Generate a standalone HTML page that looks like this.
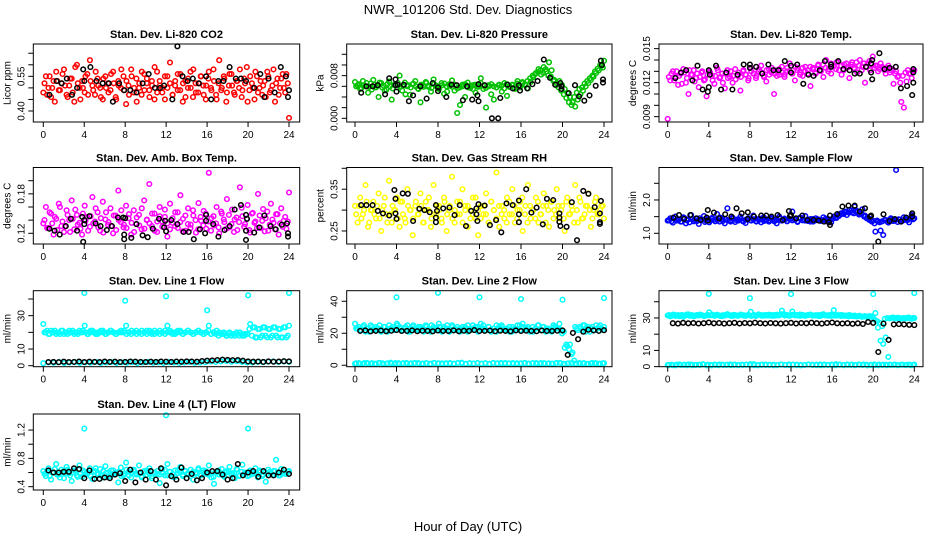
<!DOCTYPE html>
<html><head><meta charset="utf-8"><style>
html,body{margin:0;padding:0;background:#fff;}
svg text{font-family:"Liberation Sans",sans-serif;}
</style></head><body>
<svg id="chart" width="936" height="540" viewBox="0 0 936 540" xmlns="http://www.w3.org/2000/svg">
<rect x="0" y="0" width="936" height="540" fill="#fff"/>
<text x="468" y="14" font-size="13" text-anchor="middle">NWR_101206 Std. Dev. Diagnostics</text>
<text x="468" y="531" font-size="13" text-anchor="middle">Hour of Day (UTC)</text>
</svg>
<script>
const xTicks = [0,4,8,12,16,20,24];

const co2Color = [0.48,0.55,0.50,0.46,0.53,0.57,0.49,0.52,0.58,0.47,0.51,0.54,0.44,0.60,0.50,0.53,0.48,0.56,0.62,0.51,0.47,0.54,0.50,0.45,0.55,0.52,0.49,0.57,0.46,0.53,0.50,0.55,0.43,0.51,0.58,0.48,0.54,0.50,0.47,0.56,0.52,0.49,0.53,0.45,0.57,0.51,0.48,0.55,0.50,0.61,0.47,0.53,0.49,0.56,0.52,0.46,0.54,0.50,0.58,0.48,0.52,0.55,0.47,0.51,0.57,0.49,0.53,0.45,0.62,0.50,0.54,0.48,0.56,0.51,0.47,0.53,0.58,0.49,0.52,0.44,0.55,0.50,0.57,0.48,0.53,0.51,0.46,0.55,0.49,0.58,0.52,0.47,0.54,0.50,0.56,0.37];
const co2ColorB = [0.52,0.47,0.55,0.50,0.44,0.53,0.49,0.56,0.51,0.46,0.54,0.48,0.59,0.52,0.45,0.50,0.55,0.47,0.53,0.49,0.57,0.51,0.46,0.54,0.50,0.48,0.56,0.52,0.45,0.51,0.58,0.49,0.53,0.47,0.55,0.50,0.44,0.52,0.57,0.49,0.54,0.46,0.51,0.59,0.48,0.53,0.50,0.45,0.55,0.52,0.47,0.51,0.56,0.49,0.44,0.53,0.50,0.57,0.46,0.52,0.48,0.55,0.51,0.45,0.54,0.50,0.58,0.47,0.52,0.49,0.55,0.44,0.51,0.56,0.48,0.53,0.50,0.46,0.54,0.59,0.49,0.52,0.45,0.55,0.50,0.47,0.53,0.57,0.48,0.51,0.44,0.54,0.50,0.56,0.48,0.52];
const co2BlackX = [0.6,1.3,1.8,2.3,2.8,3.3,3.9,4.0,4.6,5.2,5.8,6.4,6.8,7.4,7.9,8.5,9.1,9.7,10.3,10.9,11.4,11.8,12.6,13.1,13.6,14.1,14.6,15.2,15.9,16.4,17.1,17.6,18.2,18.8,19.3,19.8,20.6,21.2,21.6,22.0,22.6,23.2,23.7,23.9,24.0];
const co2BlackY = [0.47,0.53,0.52,0.54,0.47,0.50,0.58,0.53,0.59,0.53,0.52,0.52,0.44,0.52,0.49,0.49,0.48,0.52,0.56,0.50,0.50,0.51,0.45,0.68,0.55,0.53,0.54,0.52,0.55,0.45,0.53,0.53,0.59,0.54,0.54,0.53,0.50,0.56,0.46,0.54,0.48,0.59,0.55,0.46,0.49];

const presColor = [0.0068,0.0062,0.0055,0.0070,0.0060,0.0048,0.0065,0.0072,0.0058,0.0040,0.0066,0.0061,0.0054,0.0069,0.0035,0.0063,0.0058,0.0080,0.0052,0.0067,0.0060,0.0044,0.0064,0.0070,0.0056,0.0030,0.0062,0.0068,0.0059,0.0050,0.0073,0.0061,0.0055,0.0066,0.0046,0.0060,0.0064,0.0071,0.0052,0.0010,0.0058,0.0063,0.0040,0.0067,0.0057,0.0062,0.0048,0.0061,0.0075,0.0055,0.0020,0.0060,0.0064,0.0035,0.0058,0.0062,0.0050,0.0066,0.0042,0.0060,0.0063,0.0055,0.0070,0.0058,0.0066,0.0062,0.0056,0.0068,0.0077,0.0085,0.0092,0.0082,0.0096,0.0088,0.0105,0.0090,0.0072,0.0066,0.0070,0.0062,0.0055,0.0048,0.0040,0.0030,0.0022,0.0035,0.0045,0.0052,0.0060,0.0066,0.0072,0.0078,0.0085,0.0090,0.0098,0.0108];
const presColorB = [0.0060,0.0064,0.0057,0.0062,0.0066,0.0059,0.0054,0.0063,0.0061,0.0067,0.0058,0.0052,0.0064,0.0060,0.0056,0.0063,0.0066,0.0059,0.0061,0.0045,0.0062,0.0058,0.0065,0.0060,0.0055,0.0063,0.0059,0.0066,0.0061,0.0057,0.0064,0.0060,0.0058,0.0062,0.0065,0.0050,0.0061,0.0059,0.0063,0.0056,0.0025,0.0060,0.0064,0.0058,0.0061,0.0055,0.0063,0.0059,0.0066,0.0061,0.0057,0.0062,0.0045,0.0060,0.0058,0.0063,0.0061,0.0056,0.0064,0.0059,0.0062,0.0057,0.0065,0.0061,0.0068,0.0064,0.0070,0.0075,0.0080,0.0083,0.0087,0.0090,0.0085,0.0092,0.0080,0.0078,0.0070,0.0062,0.0058,0.0052,0.0045,0.0038,0.0030,0.0025,0.0040,0.0048,0.0055,0.0058,0.0065,0.0070,0.0075,0.0080,0.0088,0.0093,0.0100,0.0095];
const presBlackX = [0.6,1.1,1.7,2.2,2.9,3.3,3.9,3.9,4.0,4.1,4.7,5.2,5.6,6.3,6.9,7.5,8.0,8.0,8.8,9.3,9.8,10.4,10.8,11.3,11.8,11.9,11.9,12.5,13.2,13.8,14.0,14.7,15.2,15.8,15.9,16.6,17.1,17.6,18.2,18.8,19.3,19.8,19.9,19.9,20.6,21.2,21.6,22.1,22.6,23.2,23.7,23.8,23.9,23.9];
const presBlackY = [0.0048,0.0060,0.0060,0.0062,0.0045,0.0075,0.0073,0.0062,0.0050,0.0063,0.0063,0.0032,0.0043,0.0060,0.0037,0.0066,0.0058,0.0051,0.0040,0.0063,0.0062,0.0034,0.0060,0.0035,0.0043,0.0032,0.0064,0.0062,0.0000,0.0000,0.0038,0.0063,0.0056,0.0062,0.0052,0.0056,0.0064,0.0070,0.0110,0.0076,0.0063,0.0066,0.0060,0.0055,0.0047,0.0062,0.0041,0.0033,0.0043,0.0061,0.0108,0.0100,0.0073,0.0067];

const tempColor = [0.0088,0.0122,0.0130,0.0125,0.0118,0.0128,0.0132,0.0120,0.0110,0.0127,0.0131,0.0124,0.0116,0.0129,0.0122,0.0108,0.0130,0.0126,0.0119,0.0133,0.0124,0.0128,0.0115,0.0131,0.0125,0.0120,0.0132,0.0126,0.0113,0.0130,0.0127,0.0122,0.0133,0.0128,0.0124,0.0130,0.0135,0.0126,0.0121,0.0132,0.0129,0.0110,0.0131,0.0127,0.0134,0.0125,0.0130,0.0137,0.0128,0.0122,0.0133,0.0129,0.0126,0.0134,0.0131,0.0117,0.0133,0.0128,0.0136,0.0130,0.0125,0.0140,0.0132,0.0128,0.0135,0.0138,0.0131,0.0127,0.0136,0.0133,0.0124,0.0138,0.0132,0.0129,0.0140,0.0134,0.0120,0.0137,0.0131,0.0143,0.0135,0.0130,0.0137,0.0133,0.0128,0.0135,0.0131,0.0119,0.0130,0.0126,0.0103,0.0098,0.0121,0.0128,0.0124,0.0131];
const tempColorB = [0.0125,0.0128,0.0122,0.0130,0.0126,0.0119,0.0129,0.0124,0.0131,0.0127,0.0121,0.0128,0.0125,0.0130,0.0123,0.0127,0.0129,0.0122,0.0126,0.0131,0.0125,0.0120,0.0128,0.0124,0.0130,0.0126,0.0123,0.0129,0.0125,0.0131,0.0127,0.0124,0.0130,0.0128,0.0126,0.0132,0.0129,0.0125,0.0131,0.0127,0.0133,0.0128,0.0126,0.0132,0.0129,0.0127,0.0133,0.0130,0.0128,0.0134,0.0131,0.0127,0.0133,0.0130,0.0128,0.0134,0.0132,0.0129,0.0135,0.0131,0.0136,0.0133,0.0130,0.0137,0.0134,0.0132,0.0138,0.0135,0.0131,0.0137,0.0134,0.0136,0.0133,0.0138,0.0135,0.0131,0.0137,0.0134,0.0139,0.0136,0.0133,0.0135,0.0132,0.0134,0.0131,0.0133,0.0129,0.0132,0.0128,0.0125,0.0120,0.0126,0.0129,0.0131,0.0128,0.0130];
const tempBlackX = [0.74,1.3,1.8,2.4,2.9,3.4,3.9,4.0,4.1,4.0,4.7,5.2,5.7,6.3,6.8,7.4,8.0,8.0,8.6,9.2,9.8,10.3,10.8,11.4,12.0,12.0,12.6,13.2,13.7,14.2,14.8,15.3,15.9,15.9,16.6,17.1,17.7,18.2,18.7,19.3,19.8,19.9,19.8,19.9,20.6,21.1,21.6,22.2,22.7,23.3,23.9,23.9,23.9,23.8];
const tempBlackY = [0.0124,0.0129,0.0131,0.0122,0.0135,0.0114,0.0112,0.0116,0.0127,0.0131,0.0135,0.0114,0.0129,0.0114,0.0127,0.0136,0.0136,0.0133,0.0134,0.0128,0.0136,0.0131,0.0131,0.0139,0.0135,0.0129,0.0136,0.0119,0.0127,0.0126,0.0131,0.0139,0.0136,0.0134,0.0139,0.0132,0.0131,0.0128,0.0128,0.0134,0.0137,0.0140,0.0129,0.0123,0.0146,0.0132,0.0133,0.0134,0.0115,0.0117,0.0120,0.0129,0.0132,0.0109];

const ambColor = [0.135,0.160,0.128,0.150,0.118,0.142,0.165,0.131,0.122,0.155,0.140,0.170,0.126,0.148,0.136,0.118,0.162,0.145,0.130,0.175,0.138,0.152,0.124,0.168,0.141,0.133,0.158,0.120,0.147,0.185,0.137,0.129,0.162,0.143,0.118,0.155,0.134,0.148,0.126,0.170,0.140,0.195,0.131,0.150,0.122,0.160,0.138,0.145,0.115,0.165,0.136,0.152,0.128,0.178,0.142,0.124,0.158,0.133,0.147,0.121,0.166,0.139,0.154,0.127,0.212,0.143,0.132,0.160,0.120,0.150,0.137,0.172,0.129,0.156,0.141,0.125,0.190,0.146,0.134,0.163,0.121,0.151,0.138,0.180,0.128,0.157,0.143,0.124,0.165,0.136,0.149,0.118,0.158,0.139,0.127,0.182];
const ambColorB = [0.140,0.128,0.152,0.135,0.145,0.125,0.160,0.138,0.130,0.148,0.122,0.142,0.156,0.133,0.127,0.150,0.139,0.124,0.146,0.135,0.158,0.129,0.143,0.121,0.152,0.137,0.131,0.147,0.125,0.140,0.155,0.133,0.128,0.149,0.136,0.122,0.144,0.132,0.158,0.127,0.141,0.135,0.150,0.124,0.138,0.146,0.130,0.156,0.135,0.126,0.143,0.131,0.152,0.137,0.123,0.147,0.134,0.128,0.155,0.140,0.126,0.145,0.132,0.150,0.138,0.124,0.146,0.135,0.129,0.153,0.141,0.127,0.148,0.134,0.122,0.144,0.137,0.159,0.130,0.142,0.125,0.150,0.136,0.128,0.147,0.139,0.123,0.153,0.133,0.141,0.126,0.149,0.135,0.130,0.145,0.138];
const ambBlackX = [0.6,1.1,1.6,2.2,2.7,3.3,3.8,3.9,4.0,4.0,4.5,5.1,5.6,6.2,6.7,7.3,7.8,7.9,7.9,8.0,8.6,9.1,9.7,10.2,10.7,11.3,11.8,11.9,12.0,12.5,13.1,13.7,14.2,14.7,15.3,15.8,15.9,15.9,16.6,17.1,17.7,18.2,18.7,19.3,19.8,19.9,19.8,19.8,20.6,21.1,21.6,22.2,22.7,23.3,23.8,23.9,23.9];
const ambBlackY = [0.127,0.124,0.118,0.131,0.142,0.124,0.145,0.107,0.134,0.140,0.146,0.135,0.131,0.125,0.131,0.144,0.144,0.118,0.111,0.143,0.113,0.134,0.117,0.114,0.127,0.142,0.129,0.139,0.123,0.140,0.134,0.122,0.122,0.111,0.126,0.120,0.148,0.139,0.134,0.115,0.125,0.131,0.156,0.163,0.148,0.142,0.124,0.110,0.121,0.129,0.147,0.131,0.126,0.133,0.135,0.115,0.120];

const rhColor = [0.31,0.27,0.33,0.29,0.36,0.26,0.30,0.32,0.28,0.34,0.25,0.31,0.29,0.37,0.27,0.30,0.33,0.26,0.32,0.28,0.35,0.30,0.24,0.31,0.29,0.34,0.27,0.32,0.30,0.26,0.36,0.29,0.31,0.28,0.33,0.25,0.30,0.38,0.27,0.32,0.29,0.35,0.31,0.26,0.30,0.33,0.28,0.24,0.31,0.29,0.34,0.27,0.32,0.30,0.39,0.26,0.31,0.28,0.33,0.29,0.35,0.27,0.30,0.32,0.25,0.31,0.36,0.28,0.30,0.33,0.27,0.29,0.34,0.31,0.26,0.32,0.30,0.35,0.28,0.31,0.25,0.33,0.29,0.30,0.36,0.27,0.32,0.28,0.31,0.34,0.26,0.30,0.33,0.29,0.31,0.28];
const rhColorB = [0.29,0.31,0.28,0.30,0.32,0.27,0.30,0.29,0.31,0.28,0.30,0.33,0.27,0.29,0.31,0.30,0.28,0.32,0.29,0.27,0.31,0.30,0.28,0.32,0.29,0.31,0.27,0.30,0.33,0.28,0.29,0.31,0.30,0.27,0.32,0.29,0.31,0.28,0.30,0.29,0.32,0.27,0.30,0.31,0.28,0.29,0.33,0.30,0.28,0.31,0.29,0.27,0.32,0.30,0.28,0.31,0.29,0.30,0.27,0.32,0.29,0.31,0.28,0.30,0.33,0.29,0.27,0.31,0.30,0.28,0.32,0.29,0.31,0.27,0.30,0.32,0.28,0.29,0.31,0.30,0.28,0.32,0.29,0.31,0.27,0.30,0.33,0.28,0.29,0.31,0.30,0.28,0.32,0.29,0.30,0.31];
const rhBlackX = [0.6,1.1,1.7,2.2,2.7,3.3,3.8,3.9,3.9,4.0,4.6,5.1,5.6,6.2,6.7,7.2,7.8,7.9,7.8,7.8,8.5,9.1,9.6,10.1,10.7,11.2,11.7,11.7,11.8,11.9,12.5,13.0,13.6,14.1,14.6,15.2,15.8,15.8,15.8,16.5,17.0,17.5,18.1,18.5,19.1,19.7,19.7,19.7,19.8,20.4,20.9,21.4,22.0,22.5,23.1,23.6,23.6,23.6,23.7];
const rhBlackY = [0.312,0.312,0.312,0.298,0.292,0.287,0.348,0.327,0.292,0.279,0.340,0.339,0.274,0.303,0.300,0.295,0.312,0.298,0.282,0.271,0.304,0.306,0.288,0.312,0.262,0.298,0.304,0.290,0.274,0.314,0.311,0.264,0.276,0.247,0.316,0.312,0.323,0.290,0.271,0.350,0.294,0.306,0.266,0.327,0.324,0.292,0.282,0.272,0.262,0.260,0.319,0.228,0.346,0.339,0.307,0.292,0.271,0.267,0.322];

const flowColor = [1.38,1.45,1.32,1.50,1.40,1.35,1.48,1.30,1.42,1.55,1.36,1.44,1.28,1.40,1.52,1.37,1.33,1.46,1.41,1.58,1.35,1.43,1.30,1.75,1.38,1.47,1.34,1.42,1.50,1.36,1.31,1.45,1.40,1.53,1.37,1.43,1.33,1.48,1.39,1.35,1.46,1.41,1.30,1.50,1.38,1.44,1.36,1.42,1.65,1.40,1.34,1.47,1.39,1.52,1.37,1.43,1.35,1.45,1.41,1.38,1.48,1.36,1.42,1.33,1.50,1.46,1.52,1.58,1.64,1.55,1.70,1.62,1.80,1.67,1.59,1.72,1.53,1.48,1.43,1.38,1.05,1.35,1.08,0.95,1.40,1.32,1.45,1.37,2.90,1.42,1.35,1.48,1.40,1.33,1.55,1.45];
const flowColorB = [1.40,1.36,1.44,1.38,1.42,1.35,1.46,1.39,1.33,1.43,1.40,1.37,1.45,1.41,1.34,1.42,1.38,1.44,1.36,1.40,1.47,1.37,1.42,1.39,1.35,1.44,1.40,1.38,1.43,1.36,1.41,1.45,1.38,1.42,1.35,1.40,1.44,1.37,1.41,1.39,1.43,1.36,1.40,1.45,1.38,1.41,1.37,1.43,1.39,1.42,1.36,1.44,1.40,1.38,1.41,1.35,1.43,1.39,1.42,1.37,1.40,1.44,1.38,1.41,1.45,1.48,1.55,1.60,1.58,1.65,1.62,1.68,1.60,1.63,1.56,1.58,1.50,1.45,1.40,1.35,1.30,1.38,1.33,1.36,1.40,1.35,1.42,1.37,1.39,1.34,1.41,1.38,1.43,1.40,1.45,1.42];
const flowBlackX = [0.55,1.1,1.6,2.2,2.8,3.2,3.8,3.9,3.9,4.5,5.0,5.6,6.2,6.7,7.2,7.8,7.8,8.4,9.1,9.6,10.1,10.7,11.2,11.8,11.9,12.0,12.5,13.1,13.6,14.2,14.7,15.2,15.7,15.8,15.8,16.5,17.0,17.6,18.2,18.7,19.2,19.7,19.8,20.5,21.0,21.6,22.1,22.7,23.2,23.8,23.8];
const flowBlackY = [1.47,1.55,1.43,1.55,1.45,1.40,1.47,1.70,1.38,1.62,1.45,1.57,1.50,1.75,1.60,1.63,1.43,1.50,1.53,1.53,1.50,1.55,1.40,1.67,1.52,1.55,1.45,1.53,1.40,1.40,1.38,1.35,1.33,1.53,1.25,1.58,1.80,1.83,1.83,1.65,1.75,1.50,1.53,0.75,1.57,1.37,1.43,1.35,1.47,1.50,1.60];

const line1Upper = [25,20,19,21,20,19,20,21,19,20,21,20,19,20,21,20,24,19,20,21,20,19,20,21,19,20,21,20,19,20,21,20,24,20,19,20,21,20,19,20,21,20,19,21,20,19,20,21,24,20,19,20,21,20,19,20,21,20,19,20,21,20,19,20,24,19,20,21,20,19,19,18,20,19,18,19,20,18,19,19,25,23,17,22,17,23,18,22,17,23,18,22,17,23,17,24];
const line1UpperB = [20,21,19,20,21,20,19,21,20,19,20,21,20,19,20,21,20,19,21,20,19,20,21,20,19,20,21,20,19,20,20,21,19,20,21,20,19,20,21,20,19,21,20,19,20,21,20,19,20,21,20,19,20,21,19,20,21,20,19,20,21,20,19,20,21,19,20,19,18,19,20,18,19,18,19,20,18,19,18,19,22,18,23,17,22,18,23,17,22,18,23,17,22,17,23,18];
const line1Low = [1.5,2.0,1.8,2.2,1.6,1.9,2.1,1.7,2.0,1.8,2.3,1.6,1.9,2.2,1.7,2.0,1.8,2.1,1.6,1.9,2.2,1.8,2.0,1.7,2.1,1.9,1.6,2.0,2.2,1.8,1.9,2.1,2.5,2.3,2.6,2.8,2.4,2.7,2.2,2.0,1.9,2.3,2.1,2.4,2.6,2.2,2.5,2.3];
const line1OutX = [4,8,12,16,20,24];
const line1OutY = [43.6,39.0,41.6,33.2,42.2,43.6];
const line1Black = [2.2,2.3,2.1,2.4,2.2,2.3,2.5,2.2,2.4,2.3,2.2,2.5,2.3,2.4,2.2,2.3,2.5,2.4,2.3,2.2,2.4,2.3,2.5,2.4,2.3,2.5,2.4,2.6,2.5,2.4,2.8,3.0,3.2,3.4,3.6,3.5,3.3,3.4,3.0,2.6,2.4,2.5,2.3,2.6,2.4,2.5,2.7,2.6];

const line2Upper = [26,23,22,24,21,23,25,22,24,23,21,24,22,25,23,22,26,24,22,23,25,21,24,23,22,24,23,25,22,21,24,23,26,22,24,23,21,25,22,24,23,22,24,21,23,25,22,24,26,23,22,24,21,23,25,22,24,23,22,21,24,23,25,22,26,23,24,22,21,23,25,22,24,23,22,21,24,23,26,20,11,12,13,8,24,22,23,25,21,24,23,22,25,24,23,24];
const line2UpperB = [23,24,22,25,23,21,24,22,23,25,22,24,21,23,24,22,25,23,22,24,21,23,25,22,24,23,21,24,22,25,23,22,24,21,23,25,22,24,23,22,21,24,23,25,22,23,24,21,23,25,22,24,22,23,21,24,25,22,23,24,21,23,22,25,24,22,23,21,24,23,25,22,24,21,23,22,25,24,23,22,21,13,10,7,3,23,24,22,25,23,21,24,22,23,25,22];
const line2Low = [1.0,1.3,0.8,1.5,1.1,0.9,1.4,1.2,1.0,1.6,0.8,1.3,1.1,1.5,0.9,1.2,1.4,1.0,1.3,0.8,1.5,1.1,1.2,0.9,1.4,1.0,1.3,1.6,0.9,1.2,1.1,1.4,1.0,1.3,0.8,1.5,1.2,1.0,1.4,1.1,0.9,1.3,1.2,1.5,1.0,1.3,0.9,1.4,1.1,1.2,1.0,1.5,1.3,0.8,1.2,1.4,1.0,1.1,1.3,0.9,1.5,1.2,1.0,1.3];
const line2LowB = [1.2,0.9,1.4,1.1,1.3,1.0,1.5,0.8,1.2,1.1,1.4,0.9,1.3,1.0,1.2,1.5,0.9,1.1,1.3,1.0,1.4,1.2,0.8,1.3,1.1,1.0,1.5,1.2,0.9,1.3,1.1,1.4,1.0,1.2,0.9,1.3,1.1,1.5,1.0,1.2,1.4,0.8,1.1,1.3,1.0,1.2,1.4,0.9,1.3,1.1,1.0,1.2,1.5,0.9,1.1,1.3,1.0,1.4,1.2,0.8,1.1,1.3,1.0,1.2];
const line2OutX = [4,8,12,16,20,24];
const line2OutY = [42.5,45.2,42.5,41.4,41.0,42.0];
const line2Black = [21.5,21.8,21.2,21.5,21.7,21.3,21.6,22.0,21.4,21.5,21.8,21.3,21.6,21.5,21.2,21.7,21.5,21.4,21.8,21.3,21.6,21.5,22.0,21.4,21.5,21.7,21.3,21.6,21.5,21.2,21.8,21.4,21.6,21.5,21.3,21.7,21.5,21.4,21.6,21.8,6.5,20.2,16.3,21.0,22.2,21.8,21.5,21.9];

const line3Upper = [31.5,31.0,32.0,31.2,31.8,31.3,30.8,31.6,32.2,31.4,31.0,31.7,31.5,31.9,31.2,31.6,33.5,31.8,31.3,32.0,31.5,31.1,31.7,32.3,31.6,31.2,31.8,31.4,32.0,31.5,31.3,31.9,33.8,31.6,31.2,32.1,31.7,31.4,31.9,31.5,31.8,31.3,32.0,31.6,34.5,32.2,31.7,31.4,34.0,31.9,31.5,32.1,31.6,31.3,31.8,32.0,31.5,31.7,31.2,31.9,32.3,31.6,31.4,32.0,34.8,31.7,31.5,31.9,31.3,31.6,31.8,31.2,31.5,31.0,31.3,30.8,31.1,30.9,31.0,30.6,33.0,24.0,16.0,14.0,18.0,6.0,30.0,30.3,29.8,30.1,29.6,30.0,29.7,30.2,29.5,29.9];
const line3UpperB = [31.8,31.3,32.0,31.5,31.1,31.9,31.6,32.2,31.4,31.8,31.2,31.7,32.1,31.5,31.3,31.9,31.6,32.0,31.4,31.8,31.2,31.7,31.5,32.1,31.3,31.9,31.6,31.4,32.0,31.7,31.5,31.8,31.2,31.9,31.6,32.2,31.4,31.7,31.5,32.0,31.3,31.8,31.6,31.9,32.3,31.5,31.7,31.4,32.0,31.6,31.8,31.3,31.9,31.5,31.7,32.1,31.4,31.6,31.8,31.2,31.9,31.5,31.7,31.3,31.6,31.4,31.8,31.2,31.5,31.3,31.0,31.4,31.1,30.9,31.2,30.8,31.0,30.7,31.1,30.9,29.0,28.0,27.0,25.0,29.5,30.0,29.7,30.2,29.8,30.1,29.6,30.0,29.8,30.3,29.7,30.0];
const line3Low = [1.0,1.2,0.8,1.4,1.1,0.9,1.3,1.0,1.2,1.5,0.8,1.1,1.3,0.9,1.2,1.0,1.4,1.1,0.9,1.3,1.2,1.0,1.5,0.8,1.1,1.3,1.0,1.2,0.9,1.4,1.1,1.0,1.3,1.2,0.8,1.1,1.4,1.0,1.2,0.9,1.3,1.1,1.0,1.5,1.2,0.9,1.1,1.3,1.0,1.2,1.4,0.8,1.1,1.0,1.3,1.2,0.9,1.1,1.4,1.0,1.2,1.1,0.9,1.3];
const line3LowB = [1.1,0.9,1.3,1.0,1.2,1.4,0.9,1.1,1.0,1.3,1.2,0.8,1.1,1.4,1.0,1.2,0.9,1.3,1.1,1.0,1.2,1.5,0.9,1.1,1.3,1.0,1.2,0.8,1.1,1.3,1.0,1.4,1.2,0.9,1.1,1.0,1.3,1.2,0.9,1.4,1.0,1.1,1.3,0.9,1.2,1.0,1.4,1.1,0.9,1.3,1.0,1.2,1.1,1.4,0.9,1.0,1.2,1.3,1.1,0.9,1.2,1.0,1.3,1.1];
const line3OutX = [4,8,12,20,24];
const line3OutY = [44.9,42.2,44.7,44.7,45.3];
const line3Black = [26.8,26.5,27.0,26.7,26.9,26.6,26.8,27.2,26.7,26.9,26.5,26.8,27.0,26.6,26.9,26.7,27.1,26.8,26.6,26.9,26.7,26.5,26.8,27.0,26.6,26.9,26.7,27.1,26.8,26.5,26.9,27.2,26.7,26.6,26.8,26.4,26.7,26.3,27.5,27.0,9.0,26.5,16.5,26.0,26.2,26.0,25.8,25.6];

const line4Color = [0.62,0.55,0.66,0.50,0.60,0.72,0.57,0.64,0.52,0.68,0.59,0.48,0.63,0.56,0.70,0.54,0.61,0.58,0.66,0.51,0.62,0.57,0.65,0.53,0.69,0.60,0.55,0.63,0.58,0.46,0.67,0.56,0.74,0.61,0.53,0.64,0.59,0.70,0.55,0.62,0.57,0.66,0.52,0.60,0.58,0.45,0.65,0.56,0.72,0.61,0.54,0.63,0.59,0.68,0.55,0.62,0.57,0.64,0.50,0.60,0.66,0.56,0.63,0.58,0.70,0.53,0.44,0.61,0.57,0.65,0.54,0.62,0.68,0.59,0.52,0.64,0.56,0.71,0.60,0.55,0.63,0.58,0.66,0.53,0.61,0.57,0.47,0.64,0.59,0.62,0.78,0.56,0.65,0.60,0.58,0.62];
const line4ColorB = [0.58,0.62,0.55,0.60,0.65,0.57,0.53,0.61,0.59,0.64,0.56,0.60,0.62,0.54,0.58,0.63,0.57,0.60,0.55,0.61,0.66,0.58,0.56,0.62,0.59,0.54,0.63,0.57,0.60,0.61,0.55,0.58,0.64,0.56,0.60,0.62,0.57,0.59,0.53,0.61,0.63,0.58,0.55,0.60,0.62,0.57,0.59,0.64,0.56,0.61,0.58,0.54,0.63,0.60,0.57,0.62,0.59,0.55,0.61,0.58,0.64,0.56,0.60,0.62,0.57,0.59,0.54,0.61,0.63,0.58,0.56,0.60,0.62,0.57,0.59,0.65,0.55,0.61,0.58,0.60,0.56,0.62,0.59,0.57,0.63,0.55,0.60,0.58,0.61,0.57,0.62,0.59,0.56,0.60,0.58,0.61];
const line4OutX = [4,12,20];
const line4OutY = [1.22,1.41,1.22];
const line4Black = [0.63,0.60,0.60,0.61,0.61,0.66,0.65,0.52,0.63,0.51,0.51,0.53,0.52,0.57,0.59,0.48,0.64,0.46,0.60,0.50,0.62,0.50,0.66,0.42,0.55,0.50,0.67,0.52,0.58,0.49,0.52,0.60,0.62,0.62,0.57,0.50,0.52,0.72,0.56,0.60,0.62,0.54,0.62,0.56,0.56,0.60,0.64,0.58];

const co2Ticks=[0.40,0.45,0.50,0.55,0.60,0.65], co2Labels=["0.40","","","0.55","",""];
const presTicks=[0,0.002,0.004,0.006,0.008,0.010,0.012], presLabels=["0.000","","","","0.008","",""];
const tempTicks=[0.009,0.010,0.011,0.012,0.013,0.014,0.015], tempLabels=["0.009","","","0.012","","","0.015"];
const ambTicks=[0.12,0.14,0.16,0.18,0.20], ambLabels=["0.12","","","0.18",""];
const rhTicks=[0.25,0.30,0.35,0.40], rhLabels=["0.25","","0.35",""];
const flowTicks=[1.0,1.5,2.0,2.5], flowLabels=["1.0","","2.0",""];
const lineTicks=[0,10,20,30,40], line1Labels=["0","10","","30",""], line2Labels=["0","","20","","40"];
const line4Ticks=[0.4,0.6,0.8,1.0,1.2], line4Labels=["0.4","","0.8","","1.2"];

const NS="http://www.w3.org/2000/svg";
const svg=document.getElementById('chart');
const cols=[{l:33.3,r:299.7,x0:43.3,x24:289},{l:346.7,r:612,x0:355,x24:604},{l:659,r:923,x0:667.7,x24:914.3}];
const rows=[{t:44,b:122},{t:167.5,b:244},{t:290.7,b:366.7},{t:414,b:490}];
function mk(tag,attrs,parent){const e=document.createElementNS(NS,tag);for(const k in attrs)e.setAttribute(k,attrs[k]);(parent||svg).appendChild(e);return e;}
function uni(n,a,b){const o=[];for(let i=0;i<n;i++)o.push(n===1?a:a+(b-a)*i/(n-1));return o;}

const panels=[
 {name:'co2',title:'Stan. Dev. Li-820 CO2',ylab:'Licor ppm',c:0,r:0,ymin:0.3523,ymax:0.690,ticks:co2Ticks,labels:co2Labels,series:[{y:co2Color,col:'#ff0000'},{y:co2ColorB,col:'#ff0000',off:true},{x:co2BlackX,y:co2BlackY,col:'#000'}]},
 {name:'pressure',title:'Stan. Dev. Li-820 Pressure',ylab:'kPa',c:1,r:0,ymin:-0.00069,ymax:0.01393,ticks:presTicks,labels:presLabels,series:[{y:presColor,col:'#00c000'},{y:presColorB,col:'#00c000',off:true},{x:presBlackX,y:presBlackY,col:'#000'}]},
 {name:'temp',title:'Stan. Dev. Li-820 Temp.',ylab:'degrees C',c:2,r:0,ymin:0.00853,ymax:0.01541,ticks:tempTicks,labels:tempLabels,series:[{y:tempColor,col:'#ff00ff'},{y:tempColorB,col:'#ff00ff',off:true},{x:tempBlackX,y:tempBlackY,col:'#000'}]},
 {name:'amb-box-temp',title:'Stan. Dev. Amb. Box Temp.',ylab:'degrees C',c:0,r:1,ymin:0.1037,ymax:0.2201,ticks:ambTicks,labels:ambLabels,series:[{y:ambColor,col:'#ff00ff'},{y:ambColorB,col:'#ff00ff',off:true},{x:ambBlackX,y:ambBlackY,col:'#000'}]},
 {name:'gas-rh',title:'Stan. Dev. Gas Stream RH',ylab:'percent',c:1,r:1,ymin:0.2189,ymax:0.4019,ticks:rhTicks,labels:rhLabels,series:[{y:rhColor,col:'#ffff00'},{y:rhColorB,col:'#ffff00',off:true},{x:rhBlackX,y:rhBlackY,col:'#000'}]},
 {name:'sample-flow',title:'Stan. Dev. Sample Flow',ylab:'ml/min',c:2,r:1,ymin:0.679,ymax:2.974,ticks:flowTicks,labels:flowLabels,series:[{y:flowColor,col:'#0000ff'},{y:flowColorB,col:'#0000ff',off:true},{x:flowBlackX,y:flowBlackY,col:'#000'}]},
 {name:'line1-flow',title:'Stan. Dev. Line 1 Flow',ylab:'ml/min',c:0,r:2,ymin:-0.6,ymax:44.98,ticks:lineTicks,labels:line1Labels,series:[{y:line1Upper,col:'#00ffff'},{y:line1UpperB,col:'#00ffff',off:true},{y:line1Low,col:'#00ffff'},{x:line1OutX,y:line1OutY,col:'#00ffff'},{y:line1Black,col:'#000',black:true}]},
 {name:'line2-flow',title:'Stan. Dev. Line 2 Flow',ylab:'ml/min',c:1,r:2,ymin:-0.9,ymax:46.6,ticks:lineTicks,labels:line2Labels,series:[{y:line2Upper,col:'#00ffff'},{y:line2UpperB,col:'#00ffff',off:true},{y:line2Low,col:'#00ffff'},{y:line2LowB,col:'#00ffff',off:true},{x:line2OutX,y:line2OutY,col:'#00ffff'},{y:line2Black,col:'#000',black:true}]},
 {name:'line3-flow',title:'Stan. Dev. Line 3 Flow',ylab:'ml/min',c:2,r:2,ymin:-0.04,ymax:46.8,ticks:lineTicks,labels:line1Labels,series:[{y:line3Upper,col:'#00ffff'},{y:line3UpperB,col:'#00ffff',off:true},{y:line3Low,col:'#00ffff'},{y:line3LowB,col:'#00ffff',off:true},{x:line3OutX,y:line3OutY,col:'#00ffff'},{y:line3Black,col:'#000',black:true}]},
 {name:'line4-flow',title:'Stan. Dev. Line 4 (LT) Flow',ylab:'ml/min',c:0,r:3,ymin:0.353,ymax:1.427,ticks:line4Ticks,labels:line4Labels,series:[{y:line4Color,col:'#00ffff'},{y:line4ColorB,col:'#00ffff',off:true},{x:line4OutX,y:line4OutY,col:'#00ffff'},{y:line4Black,col:'#000',black:true}]}
];

panels.forEach(p=>{
  const C=cols[p.c],R=rows[p.r];
  const g=mk('g',{});
  
  
  const xs=h=>C.x0+(C.x24-C.x0)*h/24;
  const ys=v=>R.b-(v-p.ymin)/(p.ymax-p.ymin)*(R.b-R.t);
  const t=mk('text',{x:(C.l+C.r)/2,y:R.t-6,'font-size':11,'font-weight':'bold','text-anchor':'middle'},g);
  t.textContent=p.title;
  
  
  const yl=mk('text',{x:0,y:0,'font-size':10,'text-anchor':'middle',transform:`translate(${C.l-23},${(R.t+R.b)/2}) rotate(-90)`},g);
  yl.textContent=p.ylab;
  
  
  const pts=mk('g',{},g);
  
  
  p.series.forEach(s=>{
    let xv;
    if(s.x) xv=s.x;
    else if(s.black) xv=uni(s.y.length,0.5,24);
    else if(s.off) xv=uni(s.y.length,0.12,23.88);
    else xv=uni(s.y.length,0,24);
    s.y.forEach((v,i)=>{
      const c=mk('circle',{cx:xs(xv[i]).toFixed(1),cy:ys(v).toFixed(1),r:2.3,fill:'none',stroke:s.col,'stroke-width':1.5},pts);
      
      
    });
  });
  const box=mk('rect',{x:C.l,y:R.t,width:C.r-C.l,height:R.b-R.t,fill:'none',stroke:'#000','stroke-width':1},g);
  
  
  xTicks.forEach(h=>{
    mk('line',{x1:xs(h),x2:xs(h),y1:R.b,y2:R.b+5,stroke:'#000'},g);
    const lt=mk('text',{x:xs(h),y:R.b+16,'font-size':10,'text-anchor':'middle'},g);
    lt.textContent=h;
    
    
  });
  p.ticks.forEach((v,i)=>{
    const y=ys(v);
    mk('line',{x1:C.l-5,x2:C.l,y1:y,y2:y,stroke:'#000'},g);
    if(p.labels[i]){
      const lt=mk('text',{x:0,y:0,'font-size':10,'text-anchor':'middle',transform:`translate(${C.l-9},${y}) rotate(-90)`},g);
      lt.textContent=p.labels[i];
      
      
    }
  });
});
</script>
</body></html>
